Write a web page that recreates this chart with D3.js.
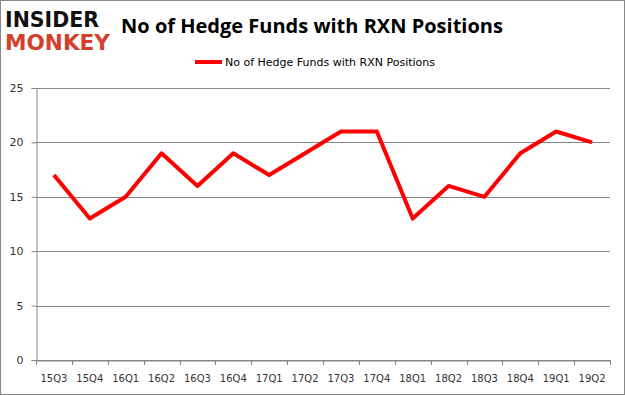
<!DOCTYPE html>
<html><head><meta charset="utf-8">
<script src="https://cdn.jsdelivr.net/npm/d3@7"></script>
<style>body{margin:0;background:#fff}svg{display:block}</style>
</head><body>
<script>
const categories = ["15Q3","15Q4","16Q1","16Q2","16Q3","16Q4","17Q1","17Q2","17Q3","17Q4","18Q1","18Q2","18Q3","18Q4","19Q1","19Q2"];
const values = [17,13,15,19,16,19,17,19,21,21,13,16,15,19,21,20];
const yTicks = [0,5,10,15,20,25];
const seriesName = "No of Hedge Funds with RXN Positions";
const title = "No of Hedge Funds with RXN Positions";

(function(){
const W = 625, H = 395;
const svg = d3.select("body").append("svg").attr("width", W).attr("height", H);
svg.append("rect").attr("x",0.5).attr("y",0.5).attr("width",W-1).attr("height",H-1)
  .attr("fill","#fff").attr("stroke","#888");

const pL = 36, pR = 610, pT = 88, pB = 360;
const x = d3.scaleBand().domain(categories).range([pL, pR]);
const y = d3.scaleLinear().domain([0,25]).range([pB, pT]);

// gridlines
svg.append("g").selectAll("line").data(yTicks).join("line")
  .attr("x1", pL).attr("x2", pR)
  .attr("y1", d => Math.round(y(d))+0.5).attr("y2", d => Math.round(y(d))+0.5)
  .attr("stroke", "#868686").attr("stroke-width", 1);

// y axis
const yAxis = svg.append("g").attr("transform", `translate(${pL+0.5},0)`)
  .call(d3.axisLeft(y).tickValues(yTicks).tickSize(5).tickPadding(8));
yAxis.select(".domain").attr("stroke","#868686");
yAxis.selectAll(".tick line").attr("stroke","#868686");
yAxis.selectAll("text").attr("font-family","'DejaVu Sans', sans-serif").attr("font-size",11).attr("fill","#333");

// x axis
const xAxis = svg.append("g").attr("transform", `translate(0,${Math.round(pB)+0.5})`)
  .call(d3.axisBottom(x).tickSize(0).tickPadding(14));
xAxis.select(".domain").attr("stroke","#868686");
xAxis.selectAll("text").attr("font-family","'DejaVu Sans', sans-serif").attr("font-size",10).attr("fill","#333");
const bounds = categories.map(c => x(c)).concat([pR]);
svg.append("g").selectAll("line").data(bounds).join("line")
  .attr("x1", d => Math.round(d)+0.5).attr("x2", d => Math.round(d)+0.5)
  .attr("y1", pB).attr("y2", pB+5).attr("stroke","#868686");

// line
const line = d3.line().x((d,i) => x(categories[i]) + x.bandwidth()/2).y(d => y(d));
svg.append("path").datum(values).attr("d", line)
  .attr("fill","none").attr("stroke","#ff0000").attr("stroke-width",4).attr("stroke-linejoin","round");

// title
svg.append("text").attr("x", 312).attr("y", 33).attr("text-anchor","middle")
  .attr("font-family","'Open Sans', sans-serif").attr("font-weight","bold").attr("font-size",20)
  .attr("fill","#000").text(title);

// legend
svg.append("line").attr("x1",195).attr("x2",222).attr("y1",62).attr("y2",62)
  .attr("stroke","#ff0000").attr("stroke-width",4);
svg.append("text").attr("x",225).attr("y",66).attr("font-family","'DejaVu Sans', sans-serif")
  .attr("font-size",11).attr("fill","#000").text(seriesName);

// logo
svg.append("text").attr("x",5).attr("y",27).attr("font-family","'DejaVu Sans', sans-serif")
  .attr("font-weight","bold").attr("font-size",22).attr("fill","#111")
  .attr("textLength",94).attr("lengthAdjust","spacingAndGlyphs").text("INSIDER");
svg.append("text").attr("x",5).attr("y",50).attr("font-family","'DejaVu Sans', sans-serif")
  .attr("font-weight","bold").attr("font-size",22).attr("fill","#d4402c")
  .attr("textLength",105).attr("lengthAdjust","spacingAndGlyphs").text("MONKEY");
})();
</script>
</body></html>
